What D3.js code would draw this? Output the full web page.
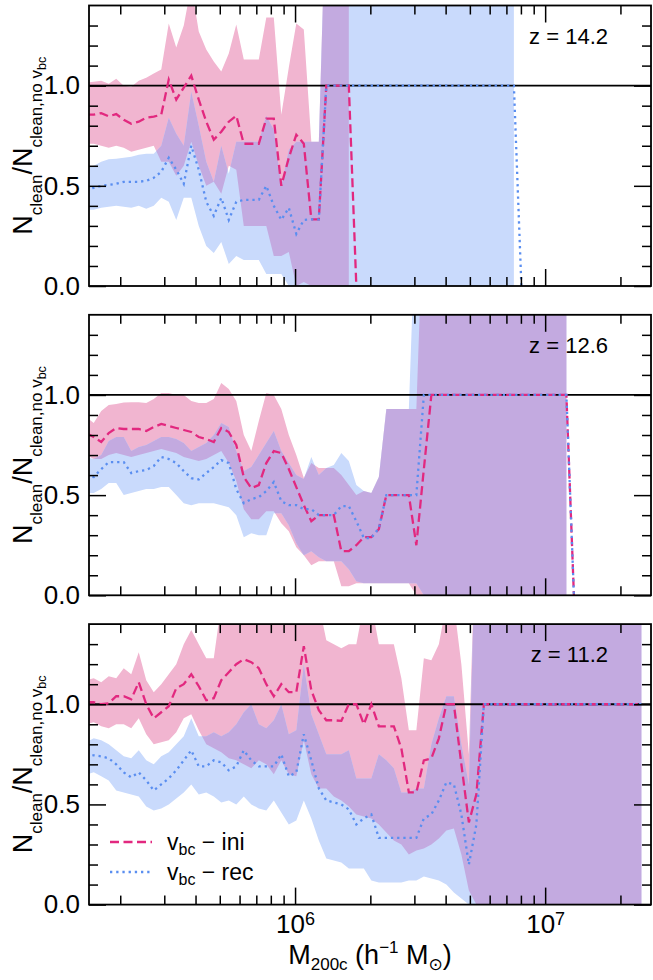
<!DOCTYPE html>
<html>
<head>
<meta charset="utf-8">
<script src="https://cdn.jsdelivr.net/npm/d3@7"></script>
<style>
  html, body { margin: 0; padding: 0; background: #ffffff; }
  svg { display: block; }
  text { font-family: "Liberation Sans", "DejaVu Sans", sans-serif; fill: #000; }
</style>
</head>
<body>
<svg id="chart" width="653" height="980"></svg>
<script>
// ---- halo-mass bins (log10 of M200c in h^-1 Msun, bin centres) ----
const logMass = [
  5.165, 5.195, 5.225, 5.255, 5.285, 5.315, 5.345, 5.375, 5.405, 5.435,
  5.465, 5.495, 5.525, 5.555, 5.585, 5.615, 5.645, 5.675, 5.705, 5.735,
  5.765, 5.795, 5.825, 5.855, 5.885, 5.915, 5.945, 5.975, 6.005, 6.035,
  6.065, 6.095, 6.125, 6.155, 6.185, 6.215, 6.245, 6.275, 6.305, 6.335,
  6.365, 6.395, 6.425, 6.455, 6.485, 6.515, 6.545, 6.575, 6.605, 6.635,
  6.665, 6.695, 6.725, 6.755, 6.785, 6.815, 6.845, 6.875, 6.905, 6.935,
  6.965, 6.995, 7.025, 7.055, 7.085, 7.115, 7.145, 7.175, 7.205, 7.235,
  7.265, 7.295, 7.325, 7.355, 7.385
];

const redshiftLabels = ["z = 14.2", "z = 12.6", "z = 11.2"];
const seriesNames = ["ini", "rec"];

// ---- z = 14.2 ----
const ini142Mid = [
  0.855,0.855,0.863,0.847,0.858,0.83,0.81,0.82,0.84,0.845,
  0.855,1.03,0.93,0.99,1.05,0.93,0.82,0.73,0.77,0.82,
  0.85,0.71,0.71,0.71,0.835,0.835,0.5,0.64,0.755,0.71,
  0.333,0.333,1,1,1,1,0,null,null,null,
  null,null,null,null,null,null,null,null,null,null,
  null,null,null,null,null,null,null,null,null,null,
  null,null,null,null,null,null,null,null,null,null,
  null,null,null,null,null];
const ini142Lo = [
  0.71,0.71,0.70,0.69,0.70,0.69,0.67,0.68,0.69,0.70,
  0.62,0.62,0.55,0.60,0.72,0.60,0.50,0.52,0.46,0.60,
  0.58,0.30,0.30,0.30,0.30,0.15,0.15,0.17,0,0.02,
  0,0,0,0,0,0,null,null,null,null,
  null,null,null,null,null,null,null,null,null,null,
  null,null,null,null,null,null,null,null,null,null,
  null,null,null,null,null,null,null,null,null,null,
  null,null,null,null,null];
const ini142Hi = [
  1.015,1.02,1.025,1.01,1.035,1.0,0.995,1.025,1.04,1.06,
  1.08,1.31,1.19,1.30,1.5,1.27,1.18,1.12,1.07,1.16,
  1.305,1.13,1.13,1.13,1.34,1.34,0.855,1.09,1.31,1.28,
  0.72,0.72,2,2,2,2,null,null,null,null,
  null,null,null,null,null,null,null,null,null,null,
  null,null,null,null,null,null,null,null,null,null,
  null,null,null,null,null,null,null,null,null,null,
  null,null,null,null,null];
const rec142Mid = [
  0.48,0.49,0.50,0.505,0.51,0.52,0.52,0.52,0.525,0.54,
  0.57,0.64,0.58,0.51,0.70,0.58,0.42,0.35,0.44,0.33,
  0.42,0.43,0.43,0.43,0.50,0.40,0.33,0.39,0.26,0.33,
  0.333,0.333,1,1,1,1,1,1,1,1,
  1,1,1,1,1,1,1,1,1,1,
  1,1,1,1,1,1,1,1,0,null,
  null,null,null,null,null,null,null,null,null,null,
  null,null,null,null,null];
const rec142Lo = [
  0.38,0.38,0.39,0.395,0.40,0.395,0.39,0.40,0.385,0.40,
  0.44,0.42,0.33,0.44,0.44,0.30,0.20,0.165,0.22,0.11,
  0.15,0.13,0.13,0.13,0.06,0.06,0.06,0,0,0,
  0,0,0,0,0,0,0,0,0,0,
  0,0,0,0,0,0,0,0,0,0,
  0,0,0,0,0,0,0,0,null,null,
  null,null,null,null,null,null,null,null,null,null,
  null,null,null,null,null];
const rec142Hi = [
  0.597,0.60,0.62,0.633,0.635,0.64,0.645,0.655,0.66,0.66,
  0.70,0.84,0.76,0.70,0.97,0.80,0.62,0.52,0.70,0.56,
  0.72,0.72,0.72,0.72,0.85,0.78,0.50,0.68,0.72,0.72,
  0.72,0.72,2,2,2,2,2,2,2,2,
  2,2,2,2,2,2,2,2,2,2,
  2,2,2,2,2,2,2,2,null,null,
  null,null,null,null,null,null,null,null,null,null,
  null,null,null,null,null];

// ---- z = 12.6 ----
const ini126Mid = [
  0.81,0.79,0.765,0.81,0.835,0.83,0.83,0.83,0.82,0.84,
  0.855,0.845,0.835,0.825,0.815,0.79,0.78,0.765,0.835,0.815,
  0.75,0.59,0.535,0.55,0.66,0.72,0.71,0.63,0.54,0.45,
  0.37,0.40,0.40,0.40,0.22,0.22,0.25,0.29,0.29,0.33,
  0.50,0.50,0.50,0.50,0.25,0.63,1,1,1,1,
  1,1,1,1,1,1,1,1,1,1,
  1,1,1,1,1,0,null,null,null,null,
  null,null,null,null,null];
const ini126Lo = [
  0.70,0.68,0.68,0.70,0.71,0.70,0.69,0.70,0.71,0.72,
  0.73,0.72,0.71,0.69,0.68,0.67,0.68,0.70,0.72,0.66,
  0.57,0.43,0.38,0.38,0.42,0.42,0.36,0.32,0.24,0.20,
  0.15,0.17,0.17,0.17,0.045,0.045,0.06,0.06,0.06,0.06,
  0.06,0.06,0.06,0.06,0,0,0,0,0,0,
  0,0,0,0,0,0,0,0,0,0,
  0,0,0,0,0,null,null,null,null,null,
  null,null,null,null,null];
const ini126Hi = [
  0.89,0.86,0.92,0.95,0.955,0.962,0.963,0.963,0.96,0.98,
  1.01,1.01,1.0,1.0,0.97,0.96,0.96,0.98,1.06,1.03,
  0.97,0.80,0.72,0.87,1.01,1.0,0.93,0.80,0.70,0.585,
  0.66,0.635,0.635,0.635,0.60,0.55,0.50,0.52,0.51,0.59,
  0.93,0.93,0.93,0.93,0.93,2,2,2,2,2,
  2,2,2,2,2,2,2,2,2,2,
  2,2,2,2,2,null,null,null,null,null,
  null,null,null,null,null];
const rec126Mid = [
  0.595,0.59,0.63,0.665,0.665,0.665,0.61,0.62,0.625,0.645,
  0.69,0.68,0.66,0.62,0.585,0.578,0.61,0.64,0.675,0.66,
  0.53,0.46,0.48,0.49,0.52,0.565,0.47,0.45,0.45,0.43,
  0.43,0.40,0.40,0.40,0.445,0.445,0.37,0.286,0.286,0.335,
  0.5,0.5,0.5,0.5,0.5,1,1,1,1,1,
  1,1,1,1,1,1,1,1,1,1,
  1,1,1,1,1,0,null,null,null,null,
  null,null,null,null,null];
const rec126Lo = [
  0.51,0.51,0.53,0.56,0.56,0.50,0.51,0.52,0.53,0.53,
  0.54,0.54,0.50,0.46,0.45,0.46,0.46,0.46,0.45,0.44,
  0.40,0.29,0.31,0.30,0.30,0.41,0.41,0.35,0.26,0.20,
  0.22,0.19,0.17,0.17,0.17,0.13,0.07,0.06,0.06,0.06,
  0.06,0.06,0.06,0.06,0.06,0,0,0,0,0,
  0,0,0,0,0,0,0,0,0,0,
  0,0,0,0,0,null,null,null,null,null,
  null,null,null,null,null];
const rec126Hi = [
  0.69,0.68,0.70,0.77,0.79,0.79,0.72,0.74,0.75,0.77,
  0.79,0.79,0.78,0.76,0.72,0.74,0.76,0.80,0.86,0.84,
  0.72,0.62,0.64,0.70,0.76,0.82,0.72,0.66,0.60,0.58,
  0.69,0.60,0.635,0.65,0.71,0.67,0.55,0.52,0.51,0.59,
  0.93,0.93,0.93,0.93,2,2,2,2,2,2,
  2,2,2,2,2,2,2,2,2,2,
  2,2,2,2,2,null,null,null,null,null,
  null,null,null,null,null];

// ---- z = 11.2 ----
const ini112Mid = [
  1.01,1.01,1.0,1.005,1.04,1.04,1.025,1.11,1.0,0.93,
  0.96,0.99,1.08,1.1,1.15,1.09,1.02,1.03,1.12,1.16,
  1.2,1.225,1.21,1.18,1.1,1.04,1.1,1.06,1.06,1.29,
  1.07,0.97,0.92,0.92,0.917,1.0,1.0,0.9,1.0,0.89,
  0.89,0.89,0.78,0.56,0.56,0.72,0.73,0.83,1.0,1.0,
  0.70,0.41,0.55,1,1,1,1,1,1,1,
  1,1,1,1,1,1,1,1,1,1,
  1,1,1,1,1];
const ini112Lo = [
  0.90,0.91,0.89,0.88,0.90,0.90,0.88,0.93,0.85,0.80,
  0.81,0.82,0.86,0.93,0.95,0.87,0.80,0.78,0.76,0.73,
  0.72,0.70,0.68,0.72,0.70,0.65,0.72,0.65,0.64,0.82,
  0.65,0.58,0.58,0.54,0.52,0.49,0.45,0.44,0.43,0.40,
  0.36,0.32,0.30,0.25,0.27,0.28,0.30,0.33,0.37,0.38,
  0.25,0.07,0,0,0,0,0,0,0,0,
  0,0,0,0,0,0,0,0,0,0,
  0,0,0,0,0];
const ini112Hi = [
  1.12,1.13,1.11,1.14,1.13,1.18,1.15,1.26,1.12,1.06,
  1.10,1.15,1.20,1.30,1.37,1.30,1.23,1.23,1.5,1.5,
  1.5,1.5,1.5,1.5,1.5,1.5,1.5,1.5,1.5,1.5,
  1.5,1.5,1.32,1.30,1.28,1.30,1.30,1.5,1.5,1.30,
  1.30,1.30,1.13,0.87,0.87,1.23,1.22,1.30,1.5,1.5,
  1.20,0.75,2,2,2,2,2,2,2,2,
  2,2,2,2,2,2,2,2,2,2,
  2,2,2,2,2];
const rec112Mid = [
  0.75,0.745,0.74,0.73,0.70,0.66,0.635,0.66,0.62,0.57,
  0.60,0.63,0.67,0.72,0.77,0.69,0.69,0.72,0.71,0.67,
  0.69,0.77,0.72,0.69,0.69,0.69,0.75,0.64,0.66,0.85,
  0.72,0.58,0.52,0.51,0.50,0.475,0.40,0.43,0.45,0.333,
  0.333,0.333,0.333,0.333,0.333,0.43,0.45,0.52,0.61,0.60,
  0.45,0.20,0.40,1,1,1,1,1,1,1,
  1,1,1,1,1,1,1,1,1,1,
  1,1,1,1,1];
const rec112Lo = [
  0.65,0.66,0.64,0.62,0.57,0.56,0.55,0.54,0.49,0.47,
  0.48,0.50,0.53,0.56,0.60,0.55,0.56,0.54,0.51,0.52,
  0.50,0.54,0.50,0.48,0.47,0.52,0.46,0.40,0.42,0.52,
  0.43,0.32,0.23,0.22,0.21,0.18,0.18,0.18,0.12,0.11,
  0.11,0.11,0.11,0.12,0.12,0.14,0.13,0.12,0.10,0.06,
  0.03,0,0,0,0,0,0,0,0,0,
  0,0,0,0,0,0,0,0,0,0,
  0,0,0,0,0];
const rec112Hi = [
  0.81,0.83,0.82,0.80,0.77,0.74,0.73,0.77,0.72,0.70,
  0.74,0.76,0.80,0.84,0.93,0.84,0.84,0.86,0.84,0.86,
  0.90,0.96,1.0,0.90,0.88,0.92,1.0,0.85,0.87,1.2,
  0.95,0.85,0.75,0.75,0.75,0.77,0.63,0.63,0.63,0.75,
  0.72,0.68,0.56,0.56,0.58,0.58,0.80,0.93,1.04,1.04,
  0.80,0.60,2,2,2,2,2,2,2,2,
  2,2,2,2,2,2,2,2,2,2,
  2,2,2,2,2];

// ---- axis ticks ----
const xMajorTicks = [1e6, 1e7];
const xMinorTicks = [2e5, 3e5, 4e5, 5e5, 6e5, 7e5, 8e5, 9e5,
                     2e6, 3e6, 4e6, 5e6, 6e6, 7e6, 8e6, 9e6, 2e7];
const yMajorTicks = [0, 0.5, 1.0];
const yMinorTicks = [0.1, 0.2, 0.3, 0.4, 0.6, 0.7, 0.8, 0.9, 1.1, 1.2, 1.3];

// ---- styling ----
const pinkFill = "#f1b5d0";
const blueFill = "#c9dafc";
const overlapFill = "#c3aae0";
const pinkLine = "#e2287f";
const blueLine = "#5a8ef0";

const panels = [
  { label: redshiftLabels[0], ini: [ini142Lo, ini142Mid, ini142Hi], rec: [rec142Lo, rec142Mid, rec142Hi] },
  { label: redshiftLabels[1], ini: [ini126Lo, ini126Mid, ini126Hi], rec: [rec126Lo, rec126Mid, rec126Hi] },
  { label: redshiftLabels[2], ini: [ini112Lo, ini112Mid, ini112Hi], rec: [rec112Lo, rec112Mid, rec112Hi] }
];

const svg = d3.select("#chart");
const defs = svg.append("defs");

const left = 89, right = 651, panelH = 280.5;
const panelTops = [5.5, 314.8, 624.1];
const majorLen = 17, minorLen = 9;

const x = d3.scaleLog().domain([1.5e5, 2.65e7]).range([left, right]);

panels.forEach((p, i) => {
  const top = panelTops[i];
  const bottom = top + panelH;
  const y = d3.scaleLinear().domain([0, 1.4]).range([bottom, top]);

  const rows = logMass.map((lm, k) => ({
    m: Math.pow(10, lm),
    iniLo: p.ini[0][k], iniMid: p.ini[1][k], iniHi: p.ini[2][k],
    recLo: p.rec[0][k], recMid: p.rec[1][k], recHi: p.rec[2][k]
  }));

  const band = (lo, hi) => d3.area()
    .defined(d => d[lo] != null && d[hi] != null)
    .x(d => x(d.m))
    .y0(d => y(d[lo]))
    .y1(d => y(d[hi]));
  const curve = key => d3.line()
    .defined(d => d[key] != null)
    .x(d => x(d.m))
    .y(d => y(d[key]));

  const plotClip = "plot-clip-" + i;
  defs.append("clipPath").attr("id", plotClip)
    .append("rect").attr("x", left).attr("y", top)
    .attr("width", right - left).attr("height", panelH);
  const lineClip = "line-clip-" + i;
  defs.append("clipPath").attr("id", lineClip)
    .append("rect").attr("x", left).attr("y", top - 4)
    .attr("width", right - left).attr("height", panelH + 8);
  const recClip = "rec-clip-" + i;
  defs.append("clipPath").attr("id", recClip)
    .append("path").attr("d", band("recLo", "recHi")(rows));

  const g = svg.append("g");

  // shaded scatter bands; the overlap is the "ini" band clipped to the "rec" band
  const fills = g.append("g").attr("clip-path", `url(#${plotClip})`);
  fills.append("path").attr("d", band("iniLo", "iniHi")(rows)).attr("fill", pinkFill);
  fills.append("path").attr("d", band("recLo", "recHi")(rows)).attr("fill", blueFill);
  fills.append("path").attr("d", band("iniLo", "iniHi")(rows))
    .attr("fill", overlapFill).attr("clip-path", `url(#${recClip})`);

  // unity reference
  g.append("line")
    .attr("x1", left).attr("x2", right)
    .attr("y1", y(1)).attr("y2", y(1))
    .attr("stroke", "#000").attr("stroke-width", 1.8);

  // median ratios
  const lines = g.append("g").attr("clip-path", `url(#${lineClip})`);
  lines.append("path").attr("d", curve("iniMid")(rows))
    .attr("fill", "none").attr("stroke", pinkLine).attr("stroke-width", 2.3)
    .attr("stroke-dasharray", "9,4.5");
  lines.append("path").attr("d", curve("recMid")(rows))
    .attr("fill", "none").attr("stroke", blueLine).attr("stroke-width", 2.3)
    .attr("stroke-dasharray", "2.3,3.9");

  // axes with inward ticks on all four sides
  const styleTicks = sel => {
    sel.select(".domain").remove();
    sel.selectAll(".tick line").attr("stroke", "#000").attr("stroke-width", 1.5);
  };
  const addAxis = (gen, tx, ty) => g.append("g")
    .attr("transform", `translate(${tx},${ty})`).call(gen).call(styleTicks);

  addAxis(d3.axisBottom(x).tickValues(xMinorTicks).tickSize(-minorLen).tickFormat(""), 0, bottom);
  addAxis(d3.axisTop(x).tickValues(xMinorTicks).tickSize(-minorLen).tickFormat(""), 0, top);
  addAxis(d3.axisTop(x).tickValues(xMajorTicks).tickSize(-majorLen).tickFormat(""), 0, top);
  const xMaj = addAxis(d3.axisBottom(x).tickValues(xMajorTicks).tickSize(-majorLen)
    .tickPadding(10).tickFormat(() => ""), 0, bottom);
  if (i === panels.length - 1) {
    xMaj.selectAll(".tick text")
      .attr("font-size", 26).attr("fill", "#000")
      .each(function (d) {
        const t = d3.select(this);
        t.append("tspan").text("10");
        t.append("tspan").attr("font-size", 18).attr("dy", "-0.42em")
          .text(Math.round(Math.log10(d)));
      });
  } else {
    xMaj.selectAll(".tick text").remove();
  }

  addAxis(d3.axisLeft(y).tickValues(yMinorTicks).tickSize(-minorLen).tickFormat(""), left, 0);
  addAxis(d3.axisRight(y).tickValues(yMinorTicks).tickSize(-minorLen).tickFormat(""), right, 0);
  addAxis(d3.axisRight(y).tickValues(yMajorTicks).tickSize(-majorLen).tickFormat(""), right, 0);
  const yMaj = addAxis(d3.axisLeft(y).tickValues(yMajorTicks).tickSize(-majorLen)
    .tickPadding(9).tickFormat(d3.format(".1f")), left, 0);
  yMaj.selectAll(".tick text").attr("font-size", 26).attr("fill", "#000");

  // frame
  g.append("rect")
    .attr("x", left).attr("y", top)
    .attr("width", right - left).attr("height", panelH)
    .attr("fill", "none").attr("stroke", "#000").attr("stroke-width", 1.8);

  // redshift tag
  g.append("text")
    .attr("x", 608).attr("y", top + 38)
    .attr("text-anchor", "end").attr("font-size", 22)
    .text(p.label);

  // y label: N_clean / N_clean,no v_bc
  const yl = g.append("text")
    .attr("transform", `translate(32,${top + panelH / 2}) rotate(-90)`)
    .attr("text-anchor", "middle").attr("font-size", 27);
  yl.append("tspan").text("N");
  yl.append("tspan").attr("font-size", 17).attr("dy", 10).text("clean");
  yl.append("tspan").attr("dy", -10).text("/N");
  yl.append("tspan").attr("font-size", 17).attr("dy", 10).text("clean,no v");
  yl.append("tspan").attr("font-size", 12.5).attr("dy", 4).text("bc");
});

// x label: M200c (h^-1 Msun)
const xl = svg.append("text")
  .attr("x", (left + right) / 2).attr("y", 964)
  .attr("text-anchor", "middle").attr("font-size", 27);
xl.append("tspan").text("M");
xl.append("tspan").attr("font-size", 17).attr("dy", 6).text("200c");
xl.append("tspan").attr("dy", -6).text(" (h");
xl.append("tspan").attr("font-size", 17).attr("dy", -11).text("\u22121");
xl.append("tspan").attr("dy", 11).text(" M");
xl.append("tspan").attr("font-size", 17).attr("dy", 6).text("\u2299");
xl.append("tspan").attr("dy", -6).text(")");

// legend (bottom panel)
const legendRows = [
  { name: seriesNames[0], color: pinkLine, dash: "9,4.5", y: 842 },
  { name: seriesNames[1], color: blueLine, dash: "2.3,3.9", y: 872 }
];
const lg = svg.append("g");
legendRows.forEach(r => {
  lg.append("line")
    .attr("x1", 110).attr("x2", 152).attr("y1", r.y).attr("y2", r.y)
    .attr("stroke", r.color).attr("stroke-width", 2.3)
    .attr("stroke-dasharray", r.dash);
  const t = lg.append("text").attr("x", 167).attr("y", r.y + 8).attr("font-size", 23);
  t.append("tspan").text("v");
  t.append("tspan").attr("font-size", 16).attr("dy", 5).text("bc");
  t.append("tspan").attr("dy", -5).text(" \u2212 " + r.name);
});
</script>
</body>
</html>
